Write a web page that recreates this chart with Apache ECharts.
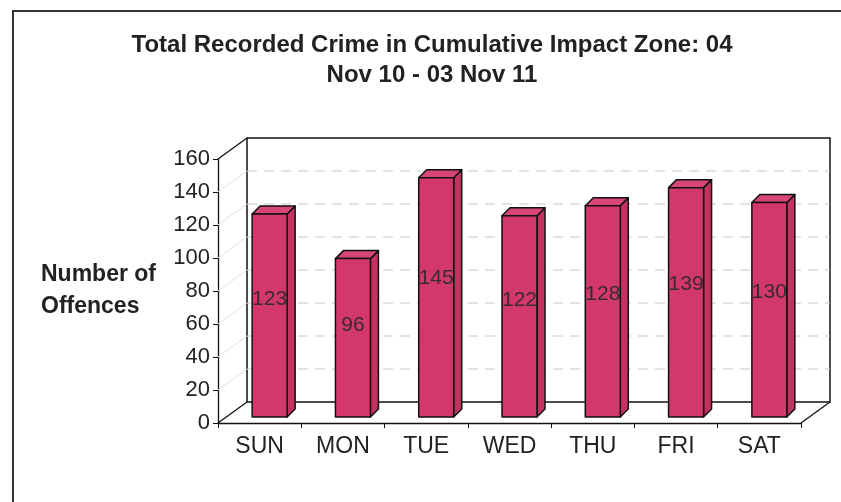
<!DOCTYPE html>
<html>
<head>
<meta charset="utf-8">
<title>Total Recorded Crime</title>
<script src="https://cdn.jsdelivr.net/npm/echarts@6/dist/echarts.min.js"></script>
<style>
  html, body { margin: 0; padding: 0; background: #fff; }
  #chart { width: 841px; height: 502px; }
</style>
</head>
<body>
<div id="chart"></div>
<script>
// data
const categories = ['SUN', 'MON', 'TUE', 'WED', 'THU', 'FRI', 'SAT'];
const offences = [123, 96, 145, 122, 128, 139, 130];
const yMin = 0;
const yMax = 160;
const yStep = 20;

// 3d look
const DX = 29, DY = -21;   // depth of the back wall
const FX = 10, FY = -6;    // where the bar front sits in the depth
const BD = 8;              // bar depth
const BAR = '#d2386a';
const EDGE = '#111';
const FONT = 'Liberation Sans, Arial, sans-serif';

const chart = echarts.init(document.getElementById('chart'));

// walls, floor and gridlines
function renderFrame(params, api) {
  const cs = params.coordSys;
  const x0 = cs.x, x1 = cs.x + cs.width;
  const yt = cs.y, yb = cs.y + cs.height;
  const children = [];

  children.push({
    type: 'polygon',
    shape: { points: [[x0 + DX, yt + DY], [x1 + DX, yt + DY], [x1 + DX, yb + DY], [x0 + DX, yb + DY]] },
    style: { fill: '#fff', stroke: EDGE, lineWidth: 1.5 }
  });

  for (let v = yMin + yStep; v < yMax; v += yStep) {
    const y = api.coord([0, v])[1];
    children.push({
      type: 'line',
      shape: { x1: x0 + DX, y1: y + DY, x2: x1 + DX, y2: y + DY },
      style: { stroke: '#c8c8c8', lineWidth: 1, lineDash: [10, 7] }
    });
    children.push({
      type: 'line',
      shape: { x1: x0, y1: y, x2: x0 + DX, y2: y + DY },
      style: { stroke: '#e2e2e2', lineWidth: 1 }
    });
  }

  const lines = [
    [x0, yt, x0 + DX, yt + DY],
    [x0, yb, x0 + DX, yb + DY],
    [x1, yb, x1 + DX, yb + DY]
  ];
  lines.forEach(l => {
    children.push({
      type: 'line',
      shape: { x1: l[0], y1: l[1], x2: l[2], y2: l[3] },
      style: { stroke: EDGE, lineWidth: 1.3 }
    });
  });

  return { type: 'group', children: children };
}

// one 3d bar per day
function renderBar(params, api) {
  const idx = api.value(0);
  const val = api.value(1);
  const base = api.coord([idx, 0]);
  const top = api.coord([idx, val]);
  const w = api.size([1, 0])[0] * 0.42;
  const left = base[0] + FX - w / 2;
  const right = left + w;
  const yB = base[1] + FY;
  const yT = top[1] + FY;
  const st = { stroke: EDGE, lineWidth: 1.5, lineJoin: 'round' };

  return {
    type: 'group',
    children: [
      {
        type: 'polygon',
        shape: { points: [[right, yB], [right + BD, yB - BD], [right + BD, yT - BD], [right, yT]] },
        style: Object.assign({ fill: '#c5325f' }, st)
      },
      {
        type: 'polygon',
        shape: { points: [[left, yT], [left + BD, yT - BD], [right + BD, yT - BD], [right, yT]] },
        style: Object.assign({ fill: '#d84577' }, st)
      },
      {
        type: 'rect',
        shape: { x: left, y: yT, width: w, height: yB - yT },
        style: Object.assign({ fill: BAR }, st)
      },
      {
        type: 'text',
        style: {
          text: String(val),
          x: (left + right) / 2,
          y: yB - (yB - yT) * 0.58,
          align: 'center',
          verticalAlign: 'middle',
          fill: '#3a2a30',
          font: '21px ' + FONT
        }
      }
    ]
  };
}

const option = {
  animation: false,
  backgroundColor: '#fff',
  title: {
    text: 'Total Recorded Crime in Cumulative Impact Zone: 04\nNov 10 - 03 Nov 11',
    left: 427,
    top: 25,
    textAlign: 'center',
    textStyle: {
      fontFamily: FONT,
      fontSize: 24,
      fontWeight: 'bold',
      color: '#222',
      lineHeight: 30
    }
  },
  grid: {
    left: 218,
    right: 40,
    top: 159,
    bottom: 79
  },
  xAxis: {
    type: 'category',
    data: categories,
    axisLine: { lineStyle: { color: EDGE, width: 1.3 } },
    axisTick: { show: true, length: 5, lineStyle: { color: EDGE } },
    axisLabel: { margin: 12, fontSize: 23, fontFamily: FONT, color: '#222' }
  },
  yAxis: {
    type: 'value',
    min: yMin,
    max: yMax,
    interval: yStep,
    splitLine: { show: false },
    axisLine: { show: true, lineStyle: { color: EDGE, width: 1.3 } },
    axisTick: { show: true, length: 5, lineStyle: { color: EDGE } },
    axisLabel: { margin: 8, fontSize: 22, fontFamily: FONT, color: '#222' }
  },
  graphic: [
    {
      type: 'text',
      left: 41,
      top: 259,
      style: {
        text: 'Number of\nOffences',
        align: 'center',
        font: 'bold 23px ' + FONT,
        fill: '#222',
        lineHeight: 32,
        x: 58
      }
    },
    {
      type: 'polyline',
      shape: { points: [[13, 502], [13, 11], [841, 11]] },
      style: { stroke: '#333', lineWidth: 2, fill: null }
    }
  ],
  series: [
    {
      type: 'custom',
      name: 'frame',
      renderItem: renderFrame,
      data: [[0, 0]],
      z: 1,
      silent: true
    },
    {
      type: 'custom',
      name: 'Offences',
      renderItem: renderBar,
      data: offences.map((v, i) => [i, v]),
      z: 3
    }
  ]
};

chart.setOption(option);
</script>
</body>
</html>
